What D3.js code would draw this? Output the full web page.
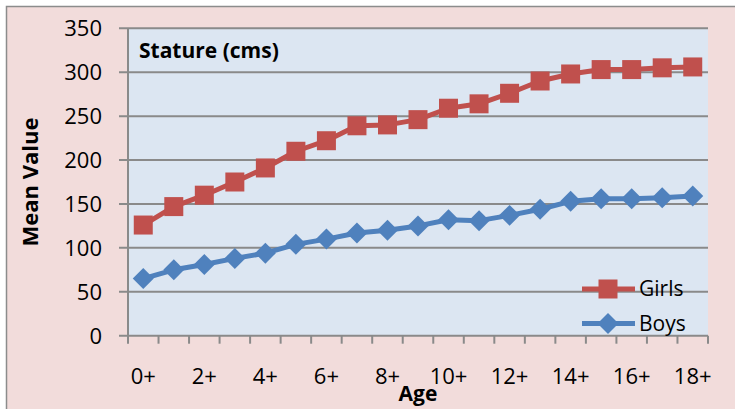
<!DOCTYPE html>
<html>
<head>
<meta charset="utf-8">
<script src="https://cdn.jsdelivr.net/npm/d3@7"></script>
<style>
  html, body { margin: 0; padding: 0; background: #fff; }
  svg { display: block; font-family: "Open Sans", sans-serif; }
</style>
</head>
<body>
<div id="chart"></div>
<script>
const ages = ["0+", "1+", "2+", "3+", "4+", "5+", "6+", "7+", "8+", "9+",
  "10+", "11+", "12+", "13+", "14+", "15+", "16+", "17+", "18+"]
const girls = [126, 147, 160, 175, 191, 210, 222, 239, 240, 246,
  259, 264, 276, 290, 298, 303, 303, 305, 306]
const boys = [65, 75, 81, 88, 94, 104, 110, 117, 120, 125,
  132, 131, 137, 144, 153, 156, 156, 157, 159]
const yTicks = [0, 50, 100, 150, 200, 250, 300, 350]

const W = 735, H = 409
const plot = { left: 128, right: 708, top: 28.3, bottom: 335.7 }

const svg = d3.select("#chart").append("svg")
  .attr("width", W).attr("height", H)

// chart area
svg.append("rect")
  .attr("x", 6.5).attr("y", 6.5)
  .attr("width", W).attr("height", H)
  .attr("fill", "#f2dcdb")
  .attr("stroke", "#8c8c8c").attr("stroke-width", 1.5)

svg.append("rect")
  .attr("x", plot.left).attr("y", plot.top)
  .attr("width", plot.right - plot.left).attr("height", plot.bottom - plot.top)
  .attr("fill", "#dce6f2")

const x = d3.scaleBand().domain(ages).range([plot.left, plot.right]).padding(0)
const y = d3.scaleLinear().domain([0, 350]).range([plot.bottom, plot.top])

// gridlines + y ticks
svg.append("g").selectAll("line")
  .data(yTicks.filter(d => d > 0))
  .join("line")
  .attr("x1", plot.left - 9).attr("x2", plot.right)
  .attr("y1", d => y(d)).attr("y2", d => y(d))
  .attr("stroke", "#8a8a8a").attr("stroke-width", 2)

svg.append("g").selectAll("text")
  .data(yTicks)
  .join("text")
  .attr("x", 102).attr("y", d => y(d))
  .attr("dy", "0.36em")
  .attr("text-anchor", "end")
  .attr("font-size", 22)
  .attr("fill", "#000")
  .text(d => d)

// axes lines
svg.append("line")
  .attr("x1", plot.left).attr("x2", plot.left)
  .attr("y1", plot.top).attr("y2", plot.bottom)
  .attr("stroke", "#8a8a8a").attr("stroke-width", 2)
svg.append("line")
  .attr("x1", plot.left - 9).attr("x2", plot.right)
  .attr("y1", plot.bottom).attr("y2", plot.bottom)
  .attr("stroke", "#8a8a8a").attr("stroke-width", 2)

// x ticks at category boundaries
const bounds = ages.map(d => x(d)).concat([plot.right])
svg.append("g").selectAll("line")
  .data(bounds)
  .join("line")
  .attr("x1", d => d).attr("x2", d => d)
  .attr("y1", plot.bottom).attr("y2", plot.bottom + 8)
  .attr("stroke", "#8a8a8a").attr("stroke-width", 2)

svg.append("g").selectAll("text")
  .data(ages.filter((d, i) => i % 2 === 0))
  .join("text")
  .attr("x", d => x(d) + x.bandwidth() / 2)
  .attr("y", 384)
  .attr("text-anchor", "middle")
  .attr("font-size", 22)
  .text(d => d)

// axis titles
svg.append("text")
  .attr("x", 418).attr("y", 401)
  .attr("text-anchor", "middle")
  .attr("font-size", 21).attr("font-weight", "bold")
  .text("Age")

svg.append("text")
  .attr("transform", "translate(38,182) rotate(-90)")
  .attr("text-anchor", "middle")
  .attr("font-size", 22).attr("font-weight", "bold")
  .text("Mean Value")

svg.append("text")
  .attr("x", 139).attr("y", 58)
  .attr("font-size", 21).attr("font-weight", "bold")
  .text("Stature (cms)")

// series
const cx = d => x(d) + x.bandwidth() / 2
const series = [
  { name: "Girls", values: girls, color: "#c0504d", symbol: d3.symbolSquare, size: 361, rot: 0 },
  { name: "Boys", values: boys, color: "#4f81bd", symbol: d3.symbolSquare, size: 220, rot: 45 }
]

const line = d3.line().x(d => cx(d.age)).y(d => y(d.v))

series.forEach(s => {
  const pts = ages.map((a, i) => ({ age: a, v: s.values[i] }))
  const g = svg.append("g")
  g.append("path")
    .datum(pts)
    .attr("d", line)
    .attr("fill", "none")
    .attr("stroke", s.color)
    .attr("stroke-width", 5)
    .attr("stroke-linejoin", "round")
  g.selectAll("path.m")
    .data(pts)
    .join("path")
    .attr("class", "m")
    .attr("d", d3.symbol().type(s.symbol).size(s.size))
    .attr("transform", d => `translate(${cx(d.age)},${y(d.v)}) rotate(${s.rot})`)
    .attr("fill", s.color)
})

// legend
const legend = svg.append("g")
series.forEach((s, i) => {
  const ly = 289 + i * 34.5
  legend.append("line")
    .attr("x1", 582).attr("x2", 635)
    .attr("y1", ly).attr("y2", ly)
    .attr("stroke", s.color).attr("stroke-width", 5)
  legend.append("path")
    .attr("d", d3.symbol().type(s.symbol).size(s.size))
    .attr("transform", `translate(608,${ly}) rotate(${s.rot})`)
    .attr("fill", s.color)
  legend.append("text")
    .attr("x", 639).attr("y", ly + 7)
    .attr("font-size", 21)
    .text(s.name)
})
</script>
</body>
</html>
